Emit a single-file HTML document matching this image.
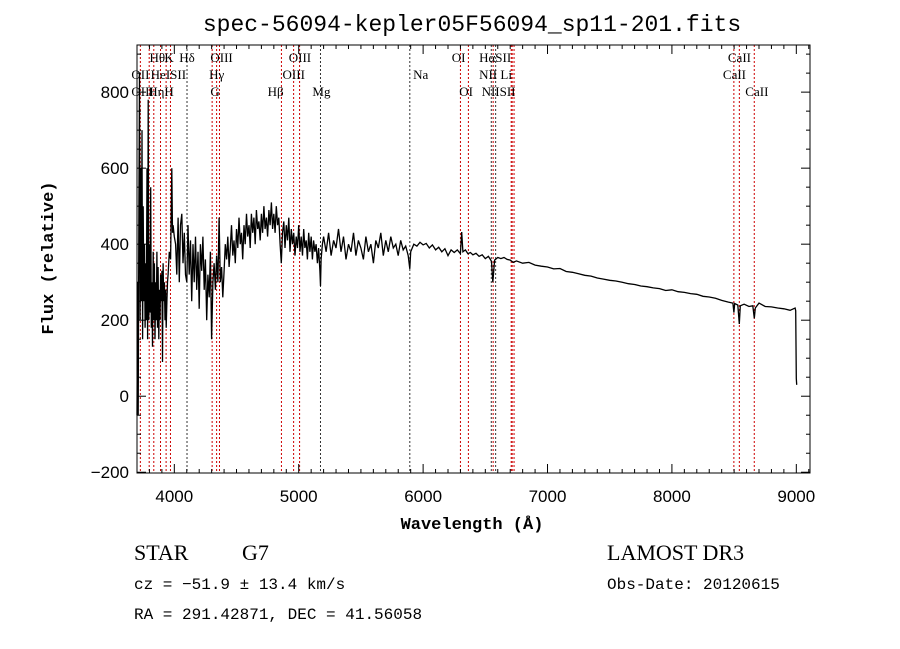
<!DOCTYPE html>
<html><head><meta charset="utf-8"><style>
html,body{margin:0;padding:0;background:#fff;}
svg{display:block;}
.tk{font-family:"Liberation Sans",sans-serif;font-size:17px;fill:#000;}
.mono{font-family:"Liberation Mono",monospace;fill:#000;}
.serif{font-family:"Liberation Serif",serif;fill:#000;}
.ll{font-family:"Liberation Serif",serif;font-size:13px;fill:#000;}
</style></head><body>
<svg id="chart" width="900" height="649" viewBox="0 0 900 649" xmlns="http://www.w3.org/2000/svg">
<text x="472" y="31" text-anchor="middle" class="mono" font-size="23">spec-56094-kepler05F56094_sp11-201.fits</text>
<text x="472" y="529" text-anchor="middle" class="mono" font-size="17" font-weight="bold">Wavelength (Å)</text>
<text transform="translate(53,258) rotate(-90)" text-anchor="middle" class="mono" font-size="17" font-weight="bold">Flux (relative)</text>
<text x="134" y="560" class="serif" font-size="22">STAR</text>
<text x="242" y="560" class="serif" font-size="22">G7</text>
<text x="607" y="560" class="serif" font-size="22">LAMOST DR3</text>
<text x="134" y="589" class="mono" font-size="16">cz = −51.9 ± 13.4 km/s</text>
<text x="607" y="589" class="mono" font-size="16">Obs-Date: 20120615</text>
<text x="134" y="619" class="mono" font-size="16">RA = 291.42871, DEC =  41.56058</text>
<g id="lines"></g><g id="spec"></g><g id="axes"></g>
</svg>
<script>
const wave=[3700,3705,3710,3715,3720,3725,3730,3735,3740,3745,3750,3755,3760,3765,3770,3775,3780,3785,3790,3795,3800,3805,3810,3815,3820,3825,3830,3835,3840,3845,3850,3855,3860,3865,3870,3875,3880,3885,3890,3895,3900,3905,3910,3915,3920,3925,3930,3935,3940,3945,3950,3960,3970,3980,3985,3990,4000,4010,4020,4030,4040,4050,4060,4070,4080,4090,4100,4110,4120,4130,4140,4150,4160,4170,4180,4190,4200,4210,4220,4230,4240,4250,4260,4270,4280,4290,4300,4310,4320,4330,4340,4350,4360,4370,4380,4390,
4400,4410,4420,4430,4440,4450,4460,4470,4480,4490,4500,4510,4520,4530,4540,4550,4560,4570,4580,4590,4600,4610,4620,4630,4640,4650,4660,4670,4680,4690,4700,4710,4720,4730,4740,4750,4760,4770,4780,4790,4800,4810,4820,4830,4840,4850,4860,4870,4880,4890,4900,4910,4920,4930,4940,4950,4960,4970,4980,4990,5000,5010,5020,5030,5040,5050,5060,5070,5080,5090,5100,5110,5120,5130,5140,5150,5160,5170,5175,5180,5190,
5200,5220,5240,5260,5280,5300,5320,5340,5360,5380,5400,5420,5440,5460,5480,5500,5520,5540,5560,5580,5600,5620,5640,5660,5680,5700,5720,5740,5760,5780,5800,5820,5840,5860,5880,5893,5900,
5925,5950,5975,6000,6025,6050,6075,6100,6125,6150,6175,6200,6225,6250,6275,6300,6310,6320,6340,6360,6380,6400,6425,6450,6475,6500,6525,6550,6560,6565,6575,6600,6625,6650,6675,6700,6725,6750,
6800,6850,6900,6950,7000,7050,7100,7150,7200,7250,7300,7350,7400,7450,7500,7550,7600,7650,7700,7750,7800,7850,7900,7950,8000,8050,8100,8150,8200,8250,8300,8350,8400,8450,8490,8498,8505,8530,8542,8550,8580,8620,8650,8662,8670,8700,8750,8800,8850,8900,8950,8990,8995,9000,9003];
const flux=[-50,300,-50,500,850,200,600,250,700,150,500,250,400,180,350,200,600,150,780,200,400,220,550,180,300,130,380,200,350,150,300,200,380,180,340,150,280,200,320,250,330,90,350,250,300,200,280,180,250,300,320,380,360,600,430,450,420,400,320,470,300,450,480,350,430,320,300,450,320,410,250,400,300,420,280,380,230,400,330,420,280,360,200,320,260,380,150,300,350,280,370,300,470,300,340,260,
330,400,360,420,340,390,450,370,410,350,440,390,470,400,430,360,450,400,480,420,450,390,480,430,470,400,490,440,460,410,480,430,500,440,470,420,490,450,510,440,480,430,500,450,470,400,350,430,460,390,450,410,470,380,440,400,430,370,420,390,450,380,420,370,440,390,410,360,430,380,420,360,410,380,400,350,390,330,290,360,400,
420,380,430,370,410,390,440,380,420,360,400,380,430,370,410,390,360,420,380,400,350,410,390,430,370,410,380,420,390,400,370,410,385,395,370,335,380,
400,395,405,398,402,390,398,385,392,380,388,370,385,378,385,375,432,380,385,375,378,372,376,368,372,362,368,355,300,318,358,365,362,365,360,358,352,356,
350,352,345,342,340,335,336,328,326,322,318,316,311,308,305,303,300,296,294,290,288,285,283,278,280,275,273,270,268,263,261,258,252,248,245,220,244,240,190,238,242,236,238,205,232,245,236,235,232,230,226,232,225,47,30];
const lineWave=[3727,3798,3835,3889,3934,3969,4102,4304,4340,4363,4861,4959,5007,5175,5893,6300,6364,6548,6563,6583,6708,6716,6731,8498,8542,8662];
const lineColor=["#c00","#c00","#c00","#c00","#c00","#c00","#333","#c00","#c00","#c00","#c00","#c00","#c00","#333","#333","#c00","#c00","#333","#c00","#333","#c00","#c00","#c00","#c00","#c00","#c00"];
const labelText=["Hθ","K","Hδ","OIII","OIII","OI","HαSII","CaII","OII","HeISII","Hγ","OIII","Na","NII Li","CaII","OIII","Hη","H","G","Hβ","Mg","OI","NIISII","CaII"];
const labelWave=[3800,3920,4040,4290,4920,6230,6450,8450,3655,3810,4280,4870,5920,6450,8410,3655,3790,3920,4290,4750,5110,6290,6470,8590];
const labelRow=[0,0,0,0,0,0,0,0,1,1,1,1,1,1,1,2,2,2,2,2,2,2,2,2];
const xTicks=[4000,5000,6000,7000,8000,9000];
const yTicks=[-200,0,200,400,600,800];
const X0=137,X1=810,Y0=45,Y1=473,W0=3700,W1=9110,F0=-202,F1=924;
const sx=w=>X0+(w-W0)/(W1-W0)*(X1-X0);
const sy=f=>Y1-(f-F0)/(F1-F0)*(Y1-Y0);
const NS="http://www.w3.org/2000/svg";
function mk(tag,attrs,parent){const e=document.createElementNS(NS,tag);for(const k in attrs)e.setAttribute(k,attrs[k]);parent.appendChild(e);return e;}
const gl=document.getElementById('lines'),gs=document.getElementById('spec'),ga=document.getElementById('axes');
lineWave.forEach((w,i)=>{
 const l=mk('line',{x1:sx(w),x2:sx(w),y1:Y0,y2:Y1,stroke:lineColor[i],'stroke-width':1,'stroke-dasharray':'2,2'},gl);
 
 
});
const rowY=[62,79,96];
labelText.forEach((t,i)=>{
 const e=mk('text',{x:sx(labelWave[i]),y:rowY[labelRow[i]],class:'ll'},gl);e.textContent=t;
 
 
});
let d='';wave.forEach((w,i)=>{d+=(i?'L':'M')+sx(w).toFixed(1)+','+sy(flux[i]).toFixed(1);});
const p=mk('path',{d:d,fill:'none',stroke:'#000','stroke-width':1.3},gs);


const fr=mk('rect',{x:X0,y:Y0,width:X1-X0,height:Y1-Y0,fill:'none',stroke:'#000','stroke-width':1},ga);


for(let w=3800;w<=9100;w+=100){const L=(w%1000===0)?9:4;
 mk('line',{x1:sx(w),x2:sx(w),y1:Y1,y2:Y1-L,stroke:'#000'},ga);mk('line',{x1:sx(w),x2:sx(w),y1:Y0,y2:Y0+L,stroke:'#000'},ga);}
for(let f=-200;f<=900;f+=50){const L=(f%200===0)?9:4;
 mk('line',{x1:X0,x2:X0+L,y1:sy(f),y2:sy(f),stroke:'#000'},ga);mk('line',{x1:X1,x2:X1-L,y1:sy(f),y2:sy(f),stroke:'#000'},ga);}
xTicks.forEach(w=>{const t=mk('text',{x:sx(w),y:502,'text-anchor':'middle',class:'tk'},ga);t.textContent=w;
 
 });
yTicks.forEach(f=>{const t=mk('text',{x:X0-8,y:sy(f)+6,'text-anchor':'end',class:'tk'},ga);t.textContent=(f<0?'−':'')+Math.abs(f);
 
 });
</script>
</body></html>
